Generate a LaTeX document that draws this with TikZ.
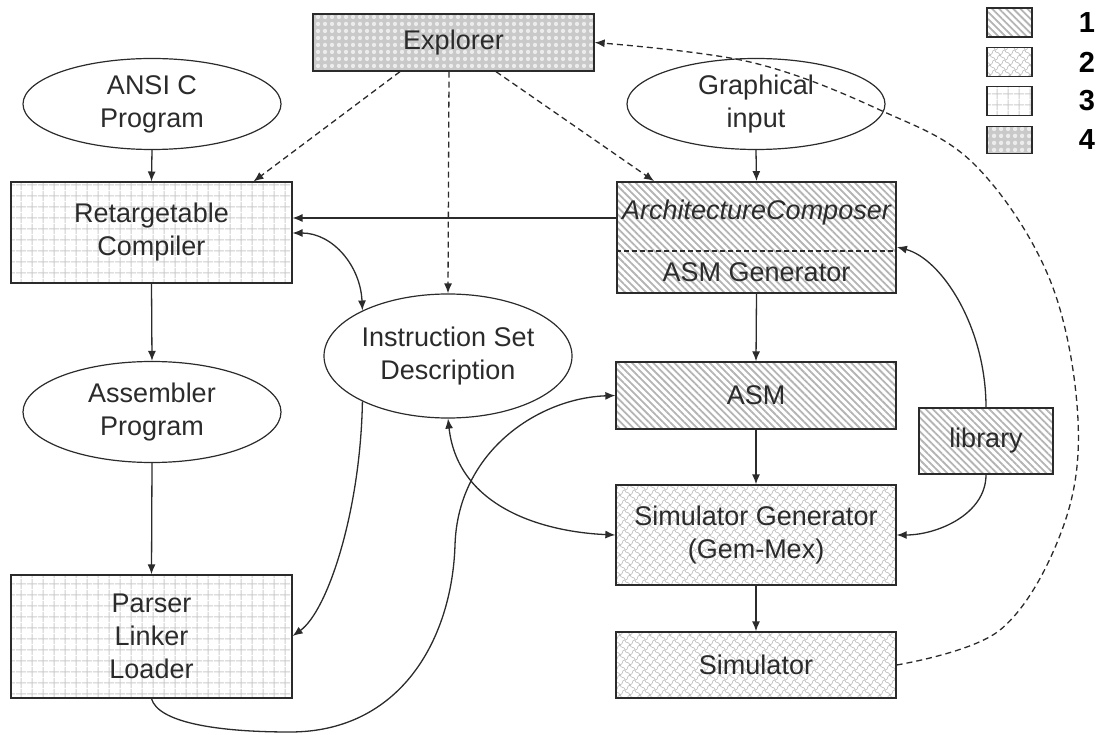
\documentclass[tikz,border=0pt]{standalone}
\usepackage{fontspec}
\setmainfont{Liberation Sans}
\usetikzlibrary{patterns.meta,shapes.geometric,arrows.meta,calc}

\tikzdeclarepattern{
  name=myscales,
  type=uncolored,
  bounding box={(-1pt,-1pt) and (11pt,11pt)},
  tile size={(10pt,10pt)},
  code={
    \draw[line width=0.6pt] (0pt,0pt) .. controls (4pt,1pt) and (1pt,5pt) .. (5pt,5pt) .. controls (9pt,5pt) and (6pt,9pt) .. (10pt,10pt);
    \draw[line width=0.6pt] (0pt,10pt) .. controls (1pt,6pt) and (5pt,9pt) .. (5pt,5pt) .. controls (5pt,1pt) and (9pt,4pt) .. (10pt,0pt);
  }
}

\definecolor{ink}{HTML}{2B2B2B}
\definecolor{pat}{HTML}{B4B4B4}

\begin{document}
\begin{tikzpicture}[x=1pt,y=-1pt,
  >={Latex[length=10pt,width=8pt]},
  every node/.style={font=\fontsize{27}{33}\selectfont, text=ink, align=center, inner sep=0pt},
  boxed/.style={rectangle, draw=ink, line width=1.3pt},
  stripes/.style={pattern={Lines[angle=-45,distance=5pt,line width=1.8pt]}, pattern color=pat},
  gridp/.style={pattern={Hatch[angle=0,distance=10.5pt,line width=1pt]}, pattern color=gray!40},
  scales/.style={pattern=myscales, pattern color=gray!55},
  dotsp/.style={preaction={fill=gray!42}, pattern={Dots[radius=2.3pt,distance=6.5pt]}, pattern color=gray!15},
  oval/.style={ellipse, draw=ink, line width=1.2pt, inner xsep=-30pt, inner ysep=-5pt},
  arr/.style={->, line width=1.3pt, draw=ink},
  darr/.style={arr, dash pattern=on 6pt off 4pt},
  legnum/.style={font=\fontsize{29}{33}\selectfont\bfseries, text=black}
]
\useasboundingbox (0,0) rectangle (1098,735);

% nodes
\node[boxed, dotsp, minimum width=281pt, minimum height=57pt] (explorer) at (453.5,42.5) {Explorer};
\node[oval, minimum width=258pt, minimum height=91pt] (ansi) at (152,104) {ANSI C\\Program};
\node[oval, minimum width=258pt, minimum height=91pt] (graph) at (756,104) {Graphical\\input};
\node[boxed, gridp, minimum width=281pt, minimum height=101pt] (comp) at (151.5,232.5) {Retargetable\\Compiler};
\node[boxed, stripes, minimum width=279pt, minimum height=111pt] (arch) at (756.5,237.5) {};
\coordinate (yDiv) at (0,251);
\draw[ink, line width=1.2pt, dash pattern=on 5pt off 3pt] (arch.west |- yDiv) -- (arch.east |- yDiv);
\node[font=\fontsize{27}{33}\selectfont\itshape] (archt) at (756.5,213) {ArchitectureComposer};
\node (asmgt) at (756.5,272) {ASM Generator};
\node[oval, minimum width=248pt, minimum height=124pt] (isd) at (448,356) {Instruction Set\\Description};
\node[oval, minimum width=258pt, minimum height=101pt] (asmprog) at (152,412) {Assembler\\Program};
\node[boxed, stripes, minimum width=280pt, minimum height=67pt] (asm) at (756,395.5) {ASM};
\node[boxed, stripes, minimum width=134pt, minimum height=66pt] (lib) at (986,441) {library};
\node[boxed, scales, minimum width=280pt, minimum height=100pt] (simgen) at (756,535) {Simulator Generator\\(Gem-Mex)};
\node[boxed, scales, minimum width=280pt, minimum height=66pt] (sim) at (756,665) {Simulator};
\node[boxed, gridp, minimum width=281pt, minimum height=123pt] (parser) at (151.5,636.5) {Parser\\Linker\\Loader};

% legend
\node[boxed, stripes, minimum width=45pt, minimum height=29pt] (l1) at (1009.5,22.5) {};
\node[boxed, scales, minimum width=45pt, minimum height=29pt] (l2) at (1009.5,62) {};
\node[boxed, gridp, minimum width=45pt, minimum height=29pt] (l3) at (1009.5,101) {};
\node[boxed, dotsp, minimum width=45pt, minimum height=27pt] (l4) at (1009.5,140) {};
\node[legnum] (n1) at (1087,23) {1};
\node[legnum] (n2) at (1087,62) {2};
\node[legnum] (n3) at (1087,101) {3};
\node[legnum] (n4) at (1087,140) {4};

% straight connectors
\draw[arr] (ansi.south) -- (comp.north);
\draw[arr] (graph.south) -- (arch.north);
\draw[arr] (comp.south) -- (asmprog.north);
\draw[arr] (asmprog.south) -- (parser.north);
\draw[arr] (arch.south) -- (asm.north);
\draw[arr] (asm.south) -- (simgen.north);
\draw[arr] (simgen.south) -- (sim.north);
\coordinate (yA) at (0,218);
\draw[arr] (arch.west |- yA) -- (comp.east |- yA);

% curved connectors
\coordinate (yB) at (0,233);
\coordinate (yD) at (0,636);
\coordinate (yC) at (0,247);
\draw[arr, <->] (comp.east |- yB) .. controls +(40,0) and +(-2,-45) .. (isd.152);
\draw[arr] (isd.208) .. controls +(-2,110) and +(35,-25) .. (parser.east |- yD);
\draw[arr, <->] (isd.south) .. controls +(10,90) and +(-70,-3) .. (simgen.west);
\draw[arr] (lib.north) .. controls +(0,-80) and +(45,12) .. (arch.east |- yC);
\draw[arr] (lib.south) .. controls +(0,40) and +(40,0) .. (simgen.east);
\draw[arr] (parser.south) .. controls (158,722) and (215,732) .. (290,732) .. controls (400,732) and (452,640) .. (455,545) .. controls (458,450) and (540,398) .. (asm.west);

% dashed connectors from/to Explorer
\draw[darr] ($(explorer.south)+(-53.5,0)$) -- ($(comp.north east)+(-39,0)$);
\draw[darr] ($(explorer.south)+(-4.5,0)$) -- (isd.north);
\draw[darr] ($(explorer.south)+(42.5,0)$) -- ($(arch.north west)+(38,0)$);
\draw[darr] plot[smooth, tension=0.6] coordinates {(sim.east) (1000,630) (1062,530) (1078,420) (1050,280) (975,165) (880,110) (750,62) (explorer.east)};
\end{tikzpicture}
\end{document}
